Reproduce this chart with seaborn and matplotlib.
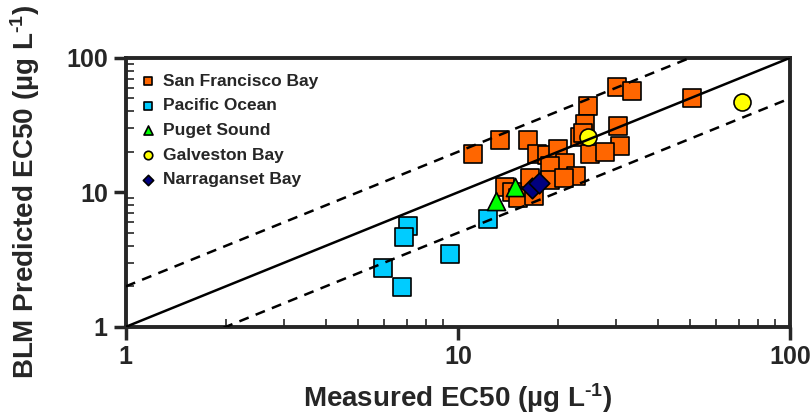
import numpy as np
import pandas as pd
import matplotlib
matplotlib.use("Agg")
import matplotlib.pyplot as plt
import seaborn as sns
from matplotlib.ticker import LogLocator, FixedLocator, NullFormatter

# Measured vs BLM predicted EC50 (ug/L)
sf_meas = [11.1, 13.4, 16.3, 24.7, 24.1, 30.1, 33.5, 30.4, 23.3, 23.8, 30.8, 25.0, 27.7,
           17.3, 18.5, 20.0, 21.0, 18.9, 22.7, 18.9, 20.8, 16.5, 13.9, 14.5, 15.2, 16.9, 50.6]
sf_pred = [19.3, 24.6, 24.6, 44.0, 32.3, 61.2, 57.1, 31.2, 26.0, 27.5, 22.2, 19.3, 19.8,
           19.3, 19.0, 20.9, 16.5, 15.6, 13.3, 12.4, 12.8, 12.8, 11.0, 10.1, 9.1, 9.4, 50.1]
po_meas = [7.05, 6.89, 9.46, 5.96, 6.80, 12.3]
po_pred = [5.66, 4.69, 3.49, 2.73, 1.99, 6.35]
ps_meas = [13.0, 14.9]
ps_pred = [8.6, 11.0]
gb_meas = [24.7, 71.5]
gb_pred = [26.0, 47.3]
nb_meas = [16.7, 17.5]
nb_pred = [10.7, 11.7]

sites = ["San Francisco Bay", "Pacific Ocean", "Puget Sound", "Galveston Bay", "Narraganset Bay"]
colors = ["#FF6600", "#00CCFF", "#00FF00", "#FFFF00", "#000080"]
markers = ["s", "s", "^", "o", "D"]
sizes = [150, 150, 170, 150, 110]

df = pd.concat([
    pd.DataFrame({"Measured": m, "Predicted": p, "Site": s})
    for m, p, s in zip([sf_meas, po_meas, ps_meas, gb_meas, nb_meas],
                       [sf_pred, po_pred, ps_pred, gb_pred, nb_pred], sites)
], ignore_index=True)

sns.set_style("ticks")
plt.rcParams["font.family"] = ["Liberation Sans", "DejaVu Sans"]
plt.rcParams["font.weight"] = "bold"
plt.rcParams["mathtext.fontset"] = "custom"
plt.rcParams["mathtext.rm"] = "Liberation Sans:bold"
plt.rcParams["mathtext.it"] = "Liberation Sans:bold"
plt.rcParams["mathtext.bf"] = "Liberation Sans:bold"

fig = plt.figure(figsize=(8.12, 4.19), dpi=100)
ax = fig.add_axes([0.155, 0.22, 0.818, 0.642])

for site, c, mk, sz in zip(sites, colors, markers, sizes):
    sub = df[df["Site"] == site]
    sns.scatterplot(data=sub, x="Measured", y="Predicted", ax=ax, color=c, marker=mk,
                    s=sz, edgecolor="black", linewidth=1.2, label=site, zorder=3)

# 1:1 line and factor-of-two lines
xl = np.array([1, 100])
ax.plot(xl, xl, color="black", lw=1.8, zorder=4)
ax.plot(xl, xl * 2, color="black", lw=1.8, ls=(0, (4, 3)), zorder=4)
ax.plot(xl, xl / 2, color="black", lw=1.8, ls=(0, (4, 3)), zorder=4)

ax.set_xscale("log")
ax.set_yscale("log")
ax.set_xlim(1, 100)
ax.set_ylim(1, 100)
ax.xaxis.set_major_locator(FixedLocator([1, 10, 100]))
ax.yaxis.set_major_locator(FixedLocator([1, 10, 100]))
ax.set_xticklabels(["1", "10", "100"])
ax.set_yticklabels(["1", "10", "100"])
ax.xaxis.set_minor_locator(LogLocator(base=10, subs=np.arange(2, 10)))
ax.yaxis.set_minor_locator(LogLocator(base=10, subs=np.arange(2, 10)))
ax.xaxis.set_minor_formatter(NullFormatter())
ax.yaxis.set_minor_formatter(NullFormatter())

ax.tick_params(which="major", direction="out", length=9, width=2.5, labelsize=18, pad=4)
ax.tick_params(which="minor", direction="in", length=6, width=1.2)
for sp in ax.spines.values():
    sp.set_linewidth(2.8)
    sp.set_visible(True)

ax.set_xlabel(r"Measured EC50 (µg L$^{\text{-1}}$)", fontsize=20, fontweight="bold", labelpad=9)
ax.set_ylabel(r"BLM Predicted EC50 (µg L$^{\text{-1}}$)", fontsize=20, fontweight="bold", labelpad=17)

leg = ax.legend(loc="upper left", frameon=False, fontsize=12.5, markerscale=0.5,
                handlelength=1.0, handletextpad=0.4, labelspacing=0.55, borderaxespad=0.5,
                bbox_to_anchor=(-0.004, 1.0))
for t in leg.get_texts():
    t.set_fontweight("bold")

fig.savefig("out.png", dpi=100)
